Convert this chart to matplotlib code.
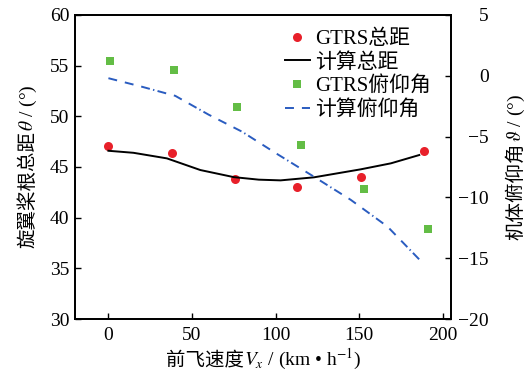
import matplotlib
matplotlib.use("Agg")
import matplotlib.pyplot as plt

plt.rcParams['font.family'] = ['Liberation Serif', 'Noto Sans CJK SC']
plt.rcParams['mathtext.fontset'] = 'stix'
plt.rcParams['axes.unicode_minus'] = True

# Measured collective pitch (GTRS) and calculated curve
speed_gtrs_pitch = [0, 38, 76, 113, 151, 189]
gtrs_collective = [47.1, 46.4, 43.8, 43.0, 44.0, 46.6]

speed_calc_pitch = [0, 15, 35, 55, 75, 90, 103, 123, 151, 169, 186]
calc_collective = [46.6, 46.4, 45.85, 44.7, 44.0, 43.75, 43.68, 43.98, 44.77, 45.36, 46.18]

# Measured fuselage pitch angle (GTRS) and calculated curve
speed_gtrs_att = [1, 39, 77, 115, 153, 191]
gtrs_attitude = [1.2, 0.5, -2.6, -5.7, -9.3, -12.6]

speed_calc_att = [0, 20, 40, 60, 80, 100, 123, 145, 167, 186]
calc_attitude = [-0.2, -0.9, -1.65, -3.2, -4.6, -6.35, -8.3, -10.2, -12.4, -15.1]

x_ticks = [0, 50, 100, 150, 200]
left_ticks = [30, 35, 40, 45, 50, 55, 60]
right_ticks = [-20, -15, -10, -5, 0, 5]

W, H = 527, 374
fig = plt.figure(figsize=(W / 100, H / 100), dpi=100)
ax = fig.add_axes([0.1423, 0.147, 0.7135, 0.813])
ax2 = ax.twinx()

fs = 14
h1, = ax.plot(speed_gtrs_pitch, gtrs_collective, 'o', color='#e8202a',
              markersize=6.5, markeredgewidth=0, label='GTRS总距')
h2, = ax.plot(speed_calc_pitch, calc_collective, '-', color='black', lw=1.4,
              solid_joinstyle='round', label='计算总距')
h3, = ax2.plot(speed_gtrs_att, gtrs_attitude, 's', color='#63bd45',
               markersize=5.5, markeredgewidth=0, label='GTRS俯仰角')
h4, = ax2.plot(speed_calc_att, calc_attitude, color='#2a5cc0', lw=1.4,
               dashes=(4.6, 4.1, 4.6, 4.1, 4.6, 1.7, 0.7, 1.7),
               label='计算俯仰角')

ax.set_xlim(-20, 205)
ax.set_ylim(30, 60)
ax2.set_ylim(-20, 5)
ax.set_xticks(x_ticks)
ax.set_yticks(left_ticks)
ax2.set_yticks(right_ticks)

ax.tick_params(axis='both', direction='in', length=4, width=1, labelsize=fs, pad=4)
ax.tick_params(axis='x', pad=6)
ax2.tick_params(axis='y', direction='in', length=4, width=1, labelsize=fs, pad=27)
for lab in ax2.get_yticklabels():
    lab.set_horizontalalignment('right')
for a in (ax, ax2):
    for s in a.spines.values():
        s.set_linewidth(1.3)

ax.legend(handles=[h1, h2, h3, h4], loc='upper right', frameon=False,
          fontsize=15, handlelength=1.2, handletextpad=0.25,
          labelspacing=0.18, borderaxespad=0.3,
          bbox_to_anchor=(0.985, 1.0))

# Axis titles: Chinese part in the CJK face, symbols in STIX mathtext
cjk = ['Noto Sans CJK SC']
renderer = fig.canvas.get_renderer()


def label_pieces(pieces, center, base, rotation):
    """Lay out text pieces along one baseline.

    Horizontal: `center` is x (px from left), `base` is y (px from top).
    Vertical: `center` is y (px from top), `base` is x (px from left).
    """
    texts = []
    for s, fam in pieces:
        t = fig.text(0, 0, s, fontsize=fs, family=fam, rotation=rotation,
                     rotation_mode='anchor', ha='left', va='baseline')
        texts.append(t)
    sizes = []
    for t in texts:
        bb = t.get_window_extent(renderer)
        sizes.append(bb.width if rotation == 0 else bb.height)
    total = sum(sizes)
    if rotation == 0:
        pos = center - total / 2
        for t, sz in zip(texts, sizes):
            t.set_position((pos / W, 1 - base / H))
            pos += sz
    else:
        pos = (H - center) - total / 2  # upward from bottom edge
        for t, sz in zip(texts, sizes):
            t.set_position((base / W, pos / H))
            pos += sz


label_pieces([('前飞速度', cjk), (r'$V_x$ / (km • h$^{-1}$)', ['Liberation Serif'])],
             center=263, base=365, rotation=0)
label_pieces([('旋翼桨根总距', cjk), (r'$\theta$ / (°)', ['Liberation Serif'])],
             center=166, base=33, rotation=90)
label_pieces([('机体俯仰角', cjk), (r'$\vartheta$ / (°)', ['Liberation Serif'])],
             center=167, base=521, rotation=90)

fig.savefig('out.png', dpi=100)
